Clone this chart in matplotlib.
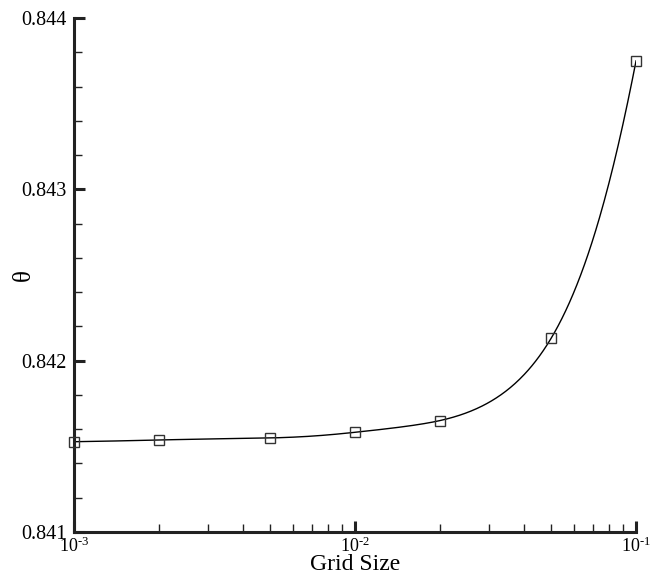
#!/usr/bin/env python
"""Grid convergence of theta vs grid size (log x)."""
import matplotlib

matplotlib.use("Agg")
import matplotlib.pyplot as plt
import numpy as np
from matplotlib.ticker import LogLocator, MultipleLocator, FixedLocator

grid_size = [0.001, 0.002, 0.005, 0.01, 0.02, 0.05, 0.1]
theta = [0.841527, 0.841537, 0.841549, 0.841582, 0.841650, 0.842134, 0.843750]
x_ticks = [1e-3, 1e-2, 1e-1]
x_ticklabels = [r"$10^{\text{-3}}$", r"$10^{\text{-2}}$", r"$10^{\text{-1}}$"]
y_ticks = [0.841, 0.842, 0.843, 0.844]
y_ticklabels = ["0.841", "0.842", "0.843", "0.844"]

plt.rcParams["font.family"] = ["Liberation Serif", "DejaVu Serif"]
plt.rcParams["mathtext.fontset"] = "custom"
plt.rcParams["mathtext.rm"] = "Liberation Serif"
plt.rcParams["mathtext.it"] = "Liberation Serif:italic"


def natural_spline(x, y, n=600):
    """Natural cubic spline through the given points (for drawing the line only)."""
    x = np.asarray(x, float)
    y = np.asarray(y, float)
    k = len(x)
    h = np.diff(x)
    A = np.zeros((k, k))
    b = np.zeros(k)
    A[0, 0] = A[-1, -1] = 1
    for i in range(1, k - 1):
        A[i, i - 1] = h[i - 1]
        A[i, i] = 2 * (h[i - 1] + h[i])
        A[i, i + 1] = h[i]
        b[i] = 3 * ((y[i + 1] - y[i]) / h[i] - (y[i] - y[i - 1]) / h[i - 1])
    c = np.linalg.solve(A, b)
    xs = np.geomspace(x[0], x[-1], n)
    idx = np.clip(np.searchsorted(x, xs) - 1, 0, k - 2)
    dx = xs - x[idx]
    hi = h[idx]
    bi = (y[idx + 1] - y[idx]) / hi - hi * (2 * c[idx] + c[idx + 1]) / 3
    di = (c[idx + 1] - c[idx]) / (3 * hi)
    ys = y[idx] + bi * dx + c[idx] * dx ** 2 + di * dx ** 3
    return xs, ys


fig = plt.figure(figsize=(6.62, 5.77), dpi=100)
ax = fig.add_axes([0.1118, 0.078, 0.8490, 0.8907])

lx, ly = natural_spline(grid_size, theta)
ax.plot(lx, ly, color="black", lw=1.0)
ax.plot(grid_size, theta, ls="none", marker="s", ms=7, mfc="none",
        mec="#333333", mew=1.0, clip_on=False, zorder=5)

ax.set_xscale("log")
ax.set_xlim(1e-3, 1e-1)
ax.set_ylim(0.841, 0.844)

for side in ["top", "right"]:
    ax.spines[side].set_visible(False)
for side in ["left", "bottom"]:
    ax.spines[side].set_linewidth(2.2)
    ax.spines[side].set_color("#222222")

ax.xaxis.set_major_locator(FixedLocator(x_ticks))
ax.set_xticklabels(x_ticklabels)
ax.xaxis.set_minor_locator(LogLocator(base=10, subs=np.arange(2, 10)))
ax.yaxis.set_major_locator(FixedLocator(y_ticks))
ax.set_yticklabels(y_ticklabels)
ax.yaxis.set_minor_locator(MultipleLocator(0.0002))

ax.tick_params(which="major", direction="in", length=8, width=2.2, color="#222222")
ax.tick_params(which="minor", direction="in", length=6, width=1.0, color="#222222")
ax.tick_params(axis="y", which="major", labelsize=14.5, pad=5.5)
ax.tick_params(axis="x", which="major", labelsize=13, pad=3)

ax.set_xlabel("Grid Size", fontsize=17)
ax.xaxis.set_label_coords(0.5, -0.043)
ax.set_ylabel("θ", fontsize=18)
ax.yaxis.set_label_coords(-0.069, 0.5)

fig.savefig("out.png", dpi=100)
